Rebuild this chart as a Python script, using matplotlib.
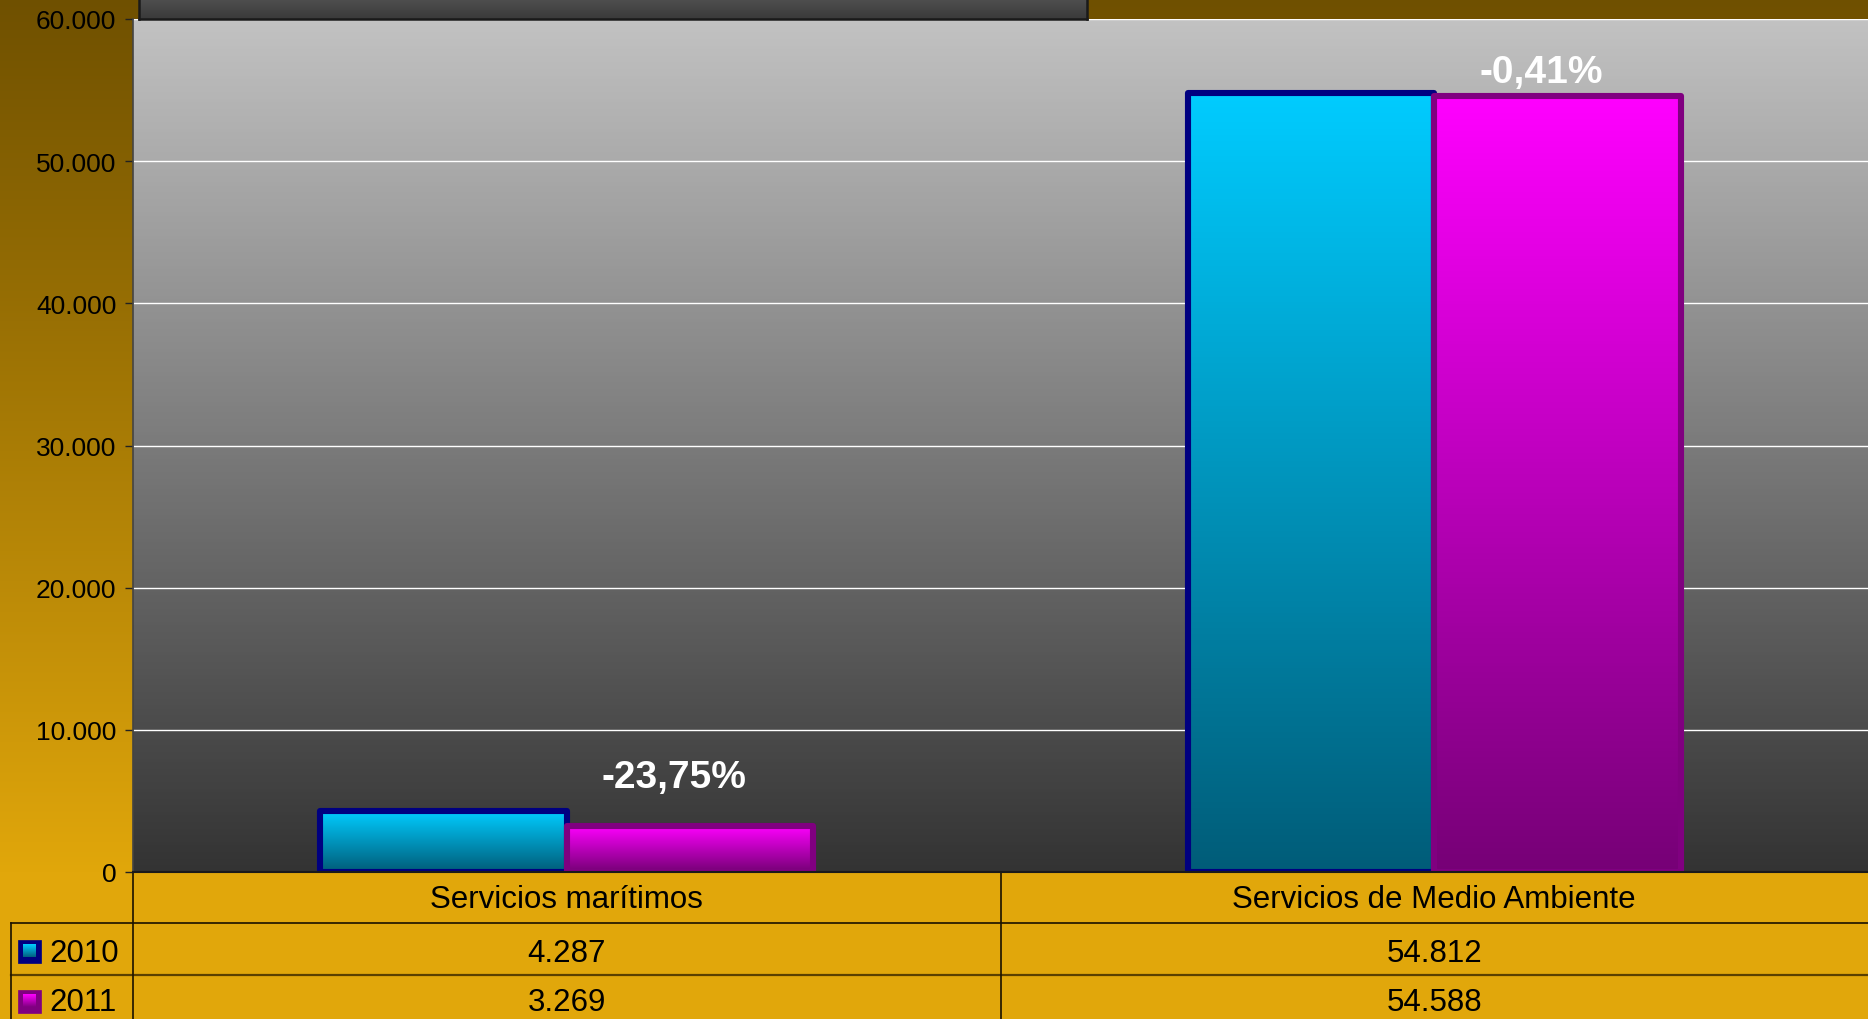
import numpy as np
import matplotlib
matplotlib.use("Agg")
import matplotlib.pyplot as plt
from matplotlib.colors import to_rgb
from matplotlib.patches import Rectangle
from matplotlib.lines import Line2D
from matplotlib.ticker import FixedLocator, FuncFormatter
from matplotlib.transforms import blended_transform_factory

# ---- data -------------------------------------------------------------
categories = ["Servicios marítimos", "Servicios de Medio Ambiente"]
series_names = ["2010", "2011"]
values_2010 = [4287, 54812]
values_2011 = [3269, 54588]
change_labels = ["-23,75%", "-0,41%"]
y_ticks = [0, 10000, 20000, 30000, 40000, 50000, 60000]

# ---- style ------------------------------------------------------------
plt.rcParams["font.family"] = ["Liberation Sans", "DejaVu Sans"]

W, H = 1868, 1020
fig = plt.figure(figsize=(W / 100, H / 100), dpi=100)


def vgrad(top, bottom, n=256):
    """Vertical RGB gradient image, first row = top colour."""
    t = np.linspace(0, 1, n)[:, None]
    a = np.array(to_rgb(top))[None, :]
    b = np.array(to_rgb(bottom))[None, :]
    return (a * (1 - t) + b * t)[:, None, :]


def es_thousands(v):
    return f"{int(round(v)):,}".replace(",", ".")


# ---- figure background (pixel coordinates) ----------------------------
bg = fig.add_axes([0, 0, 1, 1], zorder=-10)
bg.axis("off")
rows = np.clip(np.arange(H) / 873.0, 0, 1)[:, None]
c_top = np.array(to_rgb("#6F5000"))[None, :]
c_bot = np.array(to_rgb("#E1A70B"))[None, :]
bg_img = (c_top * (1 - rows) + c_bot * rows)[:, None, :]
bg.imshow(bg_img, aspect="auto", extent=[0, W, H, 0], origin="upper")
bg.set_xlim(0, W)
bg.set_ylim(H, 0)

# ---- main plot area ---------------------------------------------------
x0_px, y_top_px, y_zero_px = 133, 20, 873
ax = fig.add_axes([x0_px / W, (H - y_zero_px) / H, (W - x0_px) / W,
                   (y_zero_px - y_top_px) / H], zorder=1)
ax.set_facecolor("none")
ax.imshow(vgrad("#C2C2C2", "#333333"), aspect="auto", extent=[0, 1, 0, 1],
          origin="upper", transform=ax.transAxes, zorder=0)

x = np.arange(len(categories))
off, width = 0.142, 0.284

series = [
    (values_2010, -off, "#00CCFF", "#005C78", "#000080"),
    (values_2011, +off, "#FF00FF", "#760076", "#800080"),
]
z = 2
for vals, dx, ctop, cbot, edge in series:
    bars = ax.bar(x + dx, vals, width, facecolor="none", edgecolor=edge,
                  linewidth=4.4, zorder=z + 1, joinstyle="round")
    for b in bars:
        ax.imshow(vgrad(ctop, cbot), aspect="auto", origin="upper",
                  extent=[b.get_x(), b.get_x() + b.get_width(), 0, b.get_height()],
                  zorder=z)
    z += 2

# percentage change labels above the 2011 bars
label_lift = [39, 14]
for i, txt in enumerate(change_labels):
    ax.annotate(txt, xy=(x[i] + off, values_2011[i]), xytext=(-16, label_lift[i]),
                textcoords="offset pixels", ha="center", va="baseline",
                color="white", fontweight="bold", fontsize=28, zorder=10)

ax.set_xlim(-0.5, len(categories) - 0.5)
ax.set_ylim(0, 60000)
ax.yaxis.set_major_locator(FixedLocator(y_ticks))
ax.yaxis.set_major_formatter(FuncFormatter(lambda v, p: es_thousands(v)))
ax.tick_params(axis="y", direction="out", length=6, width=1, color="#222222",
               labelsize=19, pad=6, labelcolor="black")
ax.set_xticks([])
ax.grid(axis="y", color="white", linewidth=1)
ax.set_axisbelow(True)
for s in ["top", "right"]:
    ax.spines[s].set_visible(False)
ax.spines["left"].set_color("#444444")
ax.spines["left"].set_linewidth(1.2)
ax.spines["bottom"].set_color("#1a1a1a")
ax.spines["bottom"].set_linewidth(1.5)
ax.spines["bottom"].set_zorder(12)

# ---- data table under the chart ---------------------------------------
tr = blended_transform_factory(ax.transData, bg.transData)
row_header_y, row_2010_y, row_2011_y = 900, 954, 1003
tsize = 22.5
for i, cat in enumerate(categories):
    bg.text(x[i], row_header_y, cat, transform=tr, ha="center", va="center",
            fontsize=tsize, color="black")
    bg.text(x[i], row_2010_y, es_thousands(values_2010[i]), transform=tr,
            ha="center", va="center", fontsize=tsize, color="black")
    bg.text(x[i], row_2011_y, es_thousands(values_2011[i]), transform=tr,
            ha="center", va="center", fontsize=tsize, color="black")

line_kw = dict(transform=bg.transData)
bg.add_line(Line2D([11, W], [924, 924], color="#1a1200", linewidth=1.2, **line_kw))
bg.add_line(Line2D([11, W], [976, 976], color="#5a4000", linewidth=1.6, **line_kw))
bg.add_line(Line2D([11, 11], [924, H], color="#1a1200", linewidth=1.2, **line_kw))
for xb in [-0.5, 0.5]:
    bg.add_line(Line2D([xb, xb], [873, H], color="#1a1200", linewidth=1.2,
                       transform=tr))

# legend keys inside the table
key_style = [("#00CCFF", "#006080", "#000080", 952),
             ("#FF00FF", "#800080", "#800080", 1002)]
for (ctop, cbot, edge, yc), name, ty in zip(key_style, series_names,
                                            [row_2010_y, row_2011_y]):
    bg.add_patch(Rectangle((18, yc - 11.5), 23, 23, facecolor=edge,
                           edgecolor=edge, linewidth=0.5, zorder=3))
    bg.imshow(vgrad(ctop, cbot, 32), aspect="auto", origin="upper",
              extent=[23, 36, yc + 6.5, yc - 6.5], zorder=4)
    bg.text(49, ty, name, ha="left", va="center", fontsize=tsize, color="black")
bg.set_xlim(0, W)
bg.set_ylim(H, 0)

# ---- title box running off the top edge --------------------------------
tb = fig.add_axes([139 / W, (H - 20) / H, (1087 - 139) / W, 60 / H], zorder=5)
tb.imshow(vgrad("#7a7a7a", "#3a3a3a"), aspect="auto", extent=[0, 1, 0, 1],
          origin="upper", transform=tb.transAxes)
tb.set_xticks([])
tb.set_yticks([])
for s in tb.spines.values():
    s.set_color("#1a1a1a")
    s.set_linewidth(1.8)

fig.savefig("out.png", dpi=100)
